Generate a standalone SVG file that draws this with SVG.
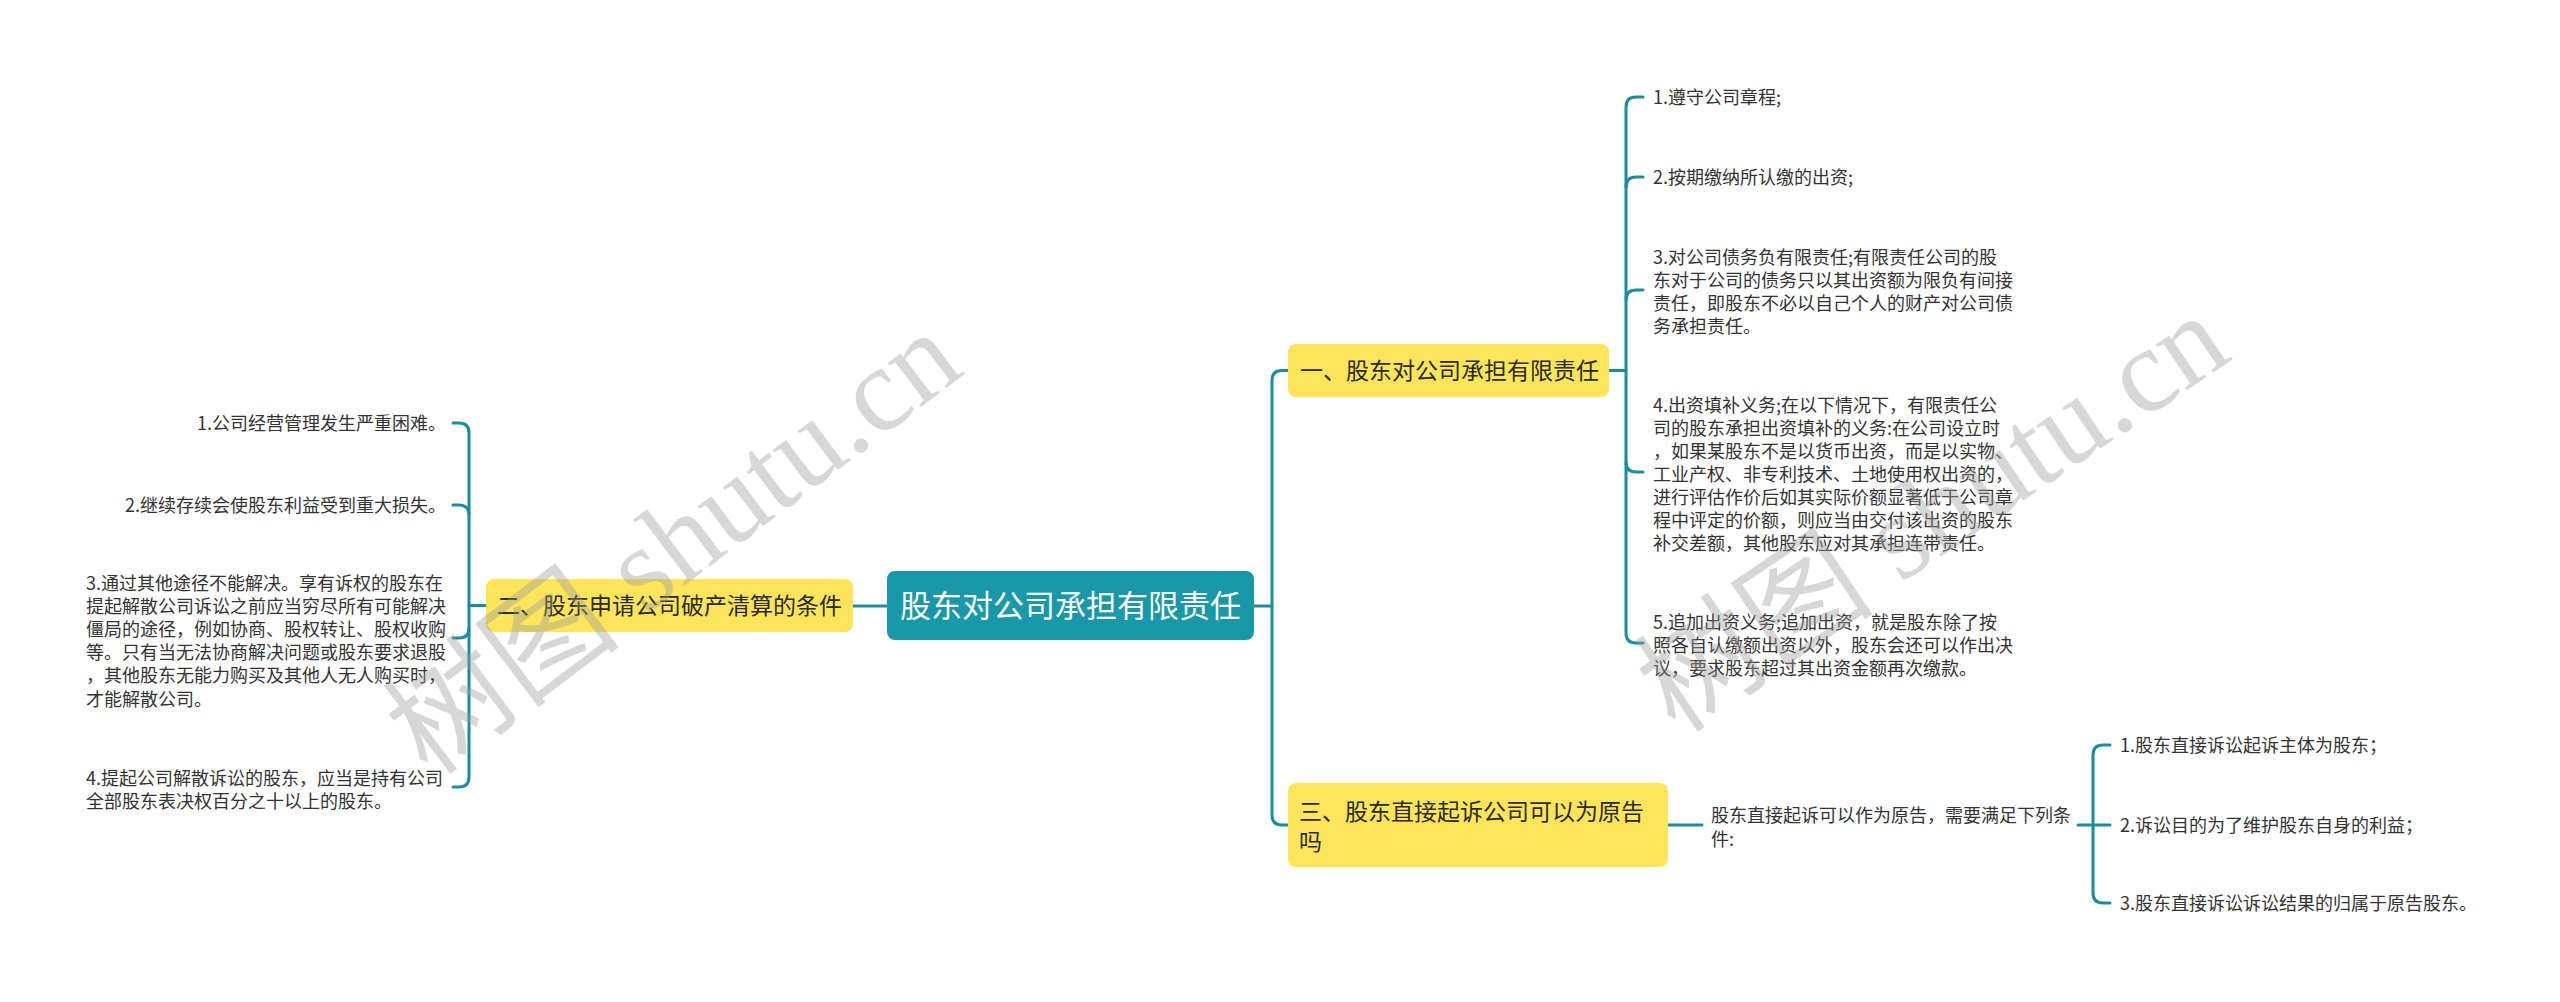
<svg xmlns="http://www.w3.org/2000/svg" width="2560" height="1002" viewBox="0 0 2560 1002">
<style>
.t{font-family:"Noto Sans CJK SC","Microsoft YaHei",sans-serif;}
.leaf{font-size:18px;fill:#333;}
.sub{font-size:23px;fill:#2a2a10;}
.root{font-size:31px;fill:#fff;}
.ybox{fill:#fde55a;}
.conn{fill:none;stroke:#1a8e9c;stroke-width:3;stroke-linecap:round;}
.wm{font-family:"Liberation Serif","Noto Sans CJK SC",serif;font-size:120px;fill:#9a9a9a;fill-opacity:0.4;}
</style>
<rect width="2560" height="1002" fill="#fff"/>
<g id="connectors">
<path class="conn" d="M1254,606 H1272"/>
<path class="conn" d="M1288,370.5 H1282 Q1272,370.5 1272,380.5 V815 Q1272,825 1282,825 H1288"/>
<path class="conn" d="M1609,370.5 H1626"/>
<path class="conn" d="M1643,97 H1636 Q1626,97 1626,107 V633 Q1626,643 1636,643 H1643"/>
<path class="conn" d="M1626,187 Q1626,177 1636,177 H1643"/>
<path class="conn" d="M1626,300 Q1626,290 1636,290 H1643"/>
<path class="conn" d="M1626,462 Q1626,472 1636,472 H1643"/>
<path class="conn" d="M1668,825 H1702"/>
<path class="conn" d="M2078,825 H2110"/>
<path class="conn" d="M2110,745 H2103 Q2093,745 2093,755 V893 Q2093,903 2103,903 H2110"/>
<path class="conn" d="M887,606 H853"/>
<path class="conn" d="M486,605.5 H469"/>
<path class="conn" d="M453,423 H459 Q469,423 469,433 V777 Q469,787 459,787 H453"/>
<path class="conn" d="M469,515 Q469,505 459,505 H453"/>
<path class="conn" d="M469,628 Q469,638 459,638 H453"/>
</g>
<g id="root">
<rect x="887" y="571" width="367" height="69" rx="8" fill="#1898a8"/>
<text class="t root" x="1070.5" y="617" text-anchor="middle">股东对公司承担有限责任</text>
</g>
<g id="n1">
<rect class="ybox" x="1288" y="344" width="321" height="53" rx="8"/>
<text class="t sub" x="1300" y="379">一、股东对公司承担有限责任</text>
</g>
<g id="n1-1"><text class="t leaf" x="1653" y="103.5">1.遵守公司章程;</text></g>
<g id="n1-2"><text class="t leaf" x="1653" y="183.5">2.按期缴纳所认缴的出资;</text></g>
<g id="n1-3"><text class="t leaf" x="1653" y="263.5">3.对公司债务负有限责任;有限责任公司的股<tspan x="1653" dy="23">东对于公司的债务只以其出资额为限负有间接</tspan><tspan x="1653" dy="23">责任，即股东不必以自己个人的财产对公司债</tspan><tspan x="1653" dy="23">务承担责任。</tspan></text></g>
<g id="n1-4"><text class="t leaf" x="1653" y="411.5">4.出资填补义务;在以下情况下，有限责任公<tspan x="1653" dy="23">司的股东承担出资填补的义务:在公司设立时</tspan><tspan x="1653" dy="23">，如果某股东不是以货币出资，而是以实物、</tspan><tspan x="1653" dy="23">工业产权、非专利技术、土地使用权出资的，</tspan><tspan x="1653" dy="23">进行评估作价后如其实际价额显著低于公司章</tspan><tspan x="1653" dy="23">程中评定的价额，则应当由交付该出资的股东</tspan><tspan x="1653" dy="23">补交差额，其他股东应对其承担连带责任。</tspan></text></g>
<g id="n1-5"><text class="t leaf" x="1653" y="628.5">5.追加出资义务;追加出资，就是股东除了按<tspan x="1653" dy="23">照各自认缴额出资以外，股东会还可以作出决</tspan><tspan x="1653" dy="23">议，要求股东超过其出资金额再次缴款。</tspan></text></g>
<g id="n3">
<rect class="ybox" x="1288" y="783" width="380" height="84" rx="8"/>
<text class="t sub" x="1299" y="820">三、股东直接起诉公司可以为原告<tspan x="1299" dy="30">吗</tspan></text>
</g>
<g id="n3-1"><text class="t leaf" x="1711" y="821.5">股东直接起诉可以作为原告，需要满足下列条<tspan x="1711" dy="24">件:</tspan></text></g>
<g id="n3-1-1"><text class="t leaf" x="2120" y="751.5">1.股东直接诉讼起诉主体为股东；</text></g>
<g id="n3-1-2"><text class="t leaf" x="2120" y="831.5">2.诉讼目的为了维护股东自身的利益；</text></g>
<g id="n3-1-3"><text class="t leaf" x="2120" y="909.5">3.股东直接诉讼诉讼结果的归属于原告股东。</text></g>
<g id="n2">
<rect class="ybox" x="486" y="579" width="367" height="53" rx="8"/>
<text class="t sub" x="497" y="614">二、股东申请公司破产清算的条件</text>
</g>
<g id="n2-1"><text class="t leaf" x="446" y="429.5" text-anchor="end">1.公司经营管理发生严重困难。</text></g>
<g id="n2-2"><text class="t leaf" x="446" y="511.5" text-anchor="end">2.继续存续会使股东利益受到重大损失。</text></g>
<g id="n2-3"><text class="t leaf" x="86" y="589.5">3.通过其他途径不能解决。享有诉权的股东在<tspan x="86" dy="23.2">提起解散公司诉讼之前应当穷尽所有可能解决</tspan><tspan x="86" dy="23.2">僵局的途径，例如协商、股权转让、股权收购</tspan><tspan x="86" dy="23.2">等。只有当无法协商解决问题或股东要求退股</tspan><tspan x="86" dy="23.2">，其他股东无能力购买及其他人无人购买时，</tspan><tspan x="86" dy="23.2">才能解散公司。</tspan></text></g>
<g id="n2-4"><text class="t leaf" x="86" y="784.5">4.提起公司解散诉讼的股东，应当是持有公司<tspan x="86" dy="23.2">全部股东表决权百分之十以上的股东。</tspan></text></g>
<g id="watermark">
<text class="wm" transform="translate(675,545) rotate(-37)" x="0" y="38" text-anchor="middle">树图 shutu.cn</text>
<text class="wm" transform="translate(1934,515) rotate(-34)" x="0" y="38" text-anchor="middle">树图 shutu.cn</text>
</g>
</svg>
